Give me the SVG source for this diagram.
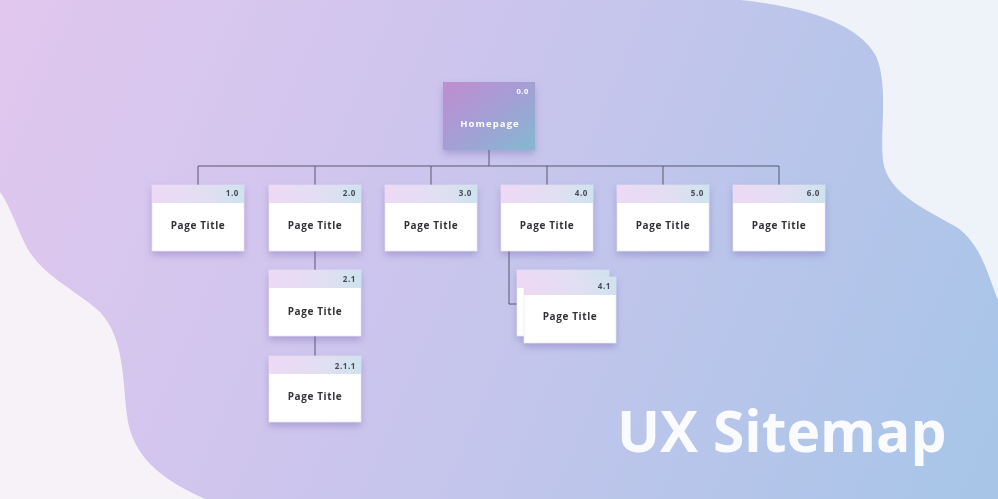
<svg xmlns="http://www.w3.org/2000/svg" width="998" height="499" viewBox="0 0 998 499">
  <style>
    .line { fill: none; stroke: #5b5670; stroke-width: 1; }
    .card { fill: #ffffff; stroke: #e4e0ef; stroke-width: 0.6; }
    .head { fill: url(#headGrad); }
    .num { font-family: "Open Sans", "Liberation Sans", sans-serif; font-weight: 700; font-size: 8px; fill: #4a4a55; text-anchor: end; letter-spacing: 0.6px; }
    .title { font-family: "Open Sans", "Liberation Sans", sans-serif; font-weight: 700; font-size: 10px; fill: #333338; text-anchor: middle; letter-spacing: 0.6px; }
    .home { font-family: "Open Sans", "Liberation Sans", sans-serif; font-weight: 700; fill: #ffffff; }
    .big { font-family: "Open Sans", "Liberation Sans", sans-serif; font-weight: 700; font-size: 57px; fill: #ffffff; fill-opacity: 0.93; }
  </style>
  <defs>
    <linearGradient id="bgGrad" x1="0" y1="0" x2="998" y2="0" gradientUnits="userSpaceOnUse">
      <stop offset="0" stop-color="#f7f2f8"/>
      <stop offset="1" stop-color="#eef2f9"/>
    </linearGradient>
    <linearGradient id="blobGrad" x1="0" y1="0" x2="998" y2="420" gradientUnits="userSpaceOnUse">
      <stop offset="0" stop-color="#e1c7ee"/>
      <stop offset="0.45" stop-color="#cbc5ed"/>
      <stop offset="1" stop-color="#a8c5e8"/>
    </linearGradient>
    <linearGradient id="homeGrad" x1="0" y1="0" x2="1" y2="1">
      <stop offset="0" stop-color="#c08ccf"/>
      <stop offset="0.5" stop-color="#a49fd6"/>
      <stop offset="1" stop-color="#84b9cf"/>
    </linearGradient>
    <linearGradient id="headGrad" x1="0" y1="0" x2="1" y2="0">
      <stop offset="0" stop-color="#eed9f5"/>
      <stop offset="0.6" stop-color="#e1dff2"/>
      <stop offset="1" stop-color="#cee3ed"/>
    </linearGradient>
    <filter id="shadow" x="-30%" y="-30%" width="160%" height="170%">
      <feDropShadow dx="0" dy="4" stdDeviation="3.5" flood-color="#6a5aa8" flood-opacity="0.35"/>
    </filter>
  </defs>

  <!-- backdrop and wavy colour shape -->
  <rect x="0" y="0" width="998" height="499" fill="url(#bgGrad)"/>
  <path fill="url(#blobGrad)" d="M0,0 L740,0 C800,6 858,22 876,56 C890,88 878,140 884,166 C892,196 928,210 958,228 C982,246 988,276 998,300 L998,499 L205,499 C168,482 136,462 128,422 C122,384 126,340 100,312 C76,290 42,276 26,246 C16,226 10,206 0,192 Z"/>

  <!-- connectors -->
  <g id="connectors">
    <path class="line" d="M489,150 V166 M198,166 H779"/>
    <path class="line" d="M198,166 V185 M315,166 V185 M431,166 V185 M547,166 V185 M663,166 V185 M779,166 V185"/>
    <path class="line" d="M315,251 V270 M315,336 V356"/>
    <path class="line" d="M509,251 V304 H517"/>
  </g>

  <!-- root -->
  <g id="node-home" filter="url(#shadow)">
    <rect x="443" y="82" width="92" height="68" fill="url(#homeGrad)"/>
    <text class="home" x="529" y="94" font-size="7.5" text-anchor="end" letter-spacing="0.6">0.0</text>
    <text class="home" x="490" y="127" font-size="9.5" text-anchor="middle" letter-spacing="1.1">Homepage</text>
  </g>

  <!-- first level -->
  <g id="node-1-0" filter="url(#shadow)">
    <rect class="card" x="152" y="185" width="92" height="66"/>
    <rect class="head" x="152" y="185" width="92" height="18"/>
    <text class="num" x="239" y="196">1.0</text>
    <text class="title" x="198" y="229">Page Title</text>
  </g>
  <g id="node-2-0" filter="url(#shadow)">
    <rect class="card" x="269" y="185" width="92" height="66"/>
    <rect class="head" x="269" y="185" width="92" height="18"/>
    <text class="num" x="356" y="196">2.0</text>
    <text class="title" x="315" y="229">Page Title</text>
  </g>
  <g id="node-3-0" filter="url(#shadow)">
    <rect class="card" x="385" y="185" width="92" height="66"/>
    <rect class="head" x="385" y="185" width="92" height="18"/>
    <text class="num" x="472" y="196">3.0</text>
    <text class="title" x="431" y="229">Page Title</text>
  </g>
  <g id="node-4-0" filter="url(#shadow)">
    <rect class="card" x="501" y="185" width="92" height="66"/>
    <rect class="head" x="501" y="185" width="92" height="18"/>
    <text class="num" x="588" y="196">4.0</text>
    <text class="title" x="547" y="229">Page Title</text>
  </g>
  <g id="node-5-0" filter="url(#shadow)">
    <rect class="card" x="617" y="185" width="92" height="66"/>
    <rect class="head" x="617" y="185" width="92" height="18"/>
    <text class="num" x="704" y="196">5.0</text>
    <text class="title" x="663" y="229">Page Title</text>
  </g>
  <g id="node-6-0" filter="url(#shadow)">
    <rect class="card" x="733" y="185" width="92" height="66"/>
    <rect class="head" x="733" y="185" width="92" height="18"/>
    <text class="num" x="820" y="196">6.0</text>
    <text class="title" x="779" y="229">Page Title</text>
  </g>

  <!-- second and third level -->
  <g id="node-2-1" filter="url(#shadow)">
    <rect class="card" x="269" y="270" width="92" height="66"/>
    <rect class="head" x="269" y="270" width="92" height="18"/>
    <text class="num" x="356" y="282">2.1</text>
    <text class="title" x="315" y="315">Page Title</text>
  </g>
  <g id="node-2-1-1" filter="url(#shadow)">
    <rect class="card" x="269" y="356" width="92" height="66"/>
    <rect class="head" x="269" y="356" width="92" height="18"/>
    <text class="num" x="356" y="369">2.1.1</text>
    <text class="title" x="315" y="400">Page Title</text>
  </g>
  <g id="node-4-1" filter="url(#shadow)">
    <rect class="card" x="517" y="270" width="92" height="66"/>
    <rect class="head" x="517" y="270" width="92" height="18"/>
    <rect class="card" x="524" y="277" width="92" height="66"/>
    <rect class="head" x="524" y="277" width="92" height="18"/>
    <text class="num" x="611" y="289">4.1</text>
    <text class="title" x="570" y="320">Page Title</text>
  </g>

  <text class="big" x="617" y="452">UX Sitemap</text>
</svg>
